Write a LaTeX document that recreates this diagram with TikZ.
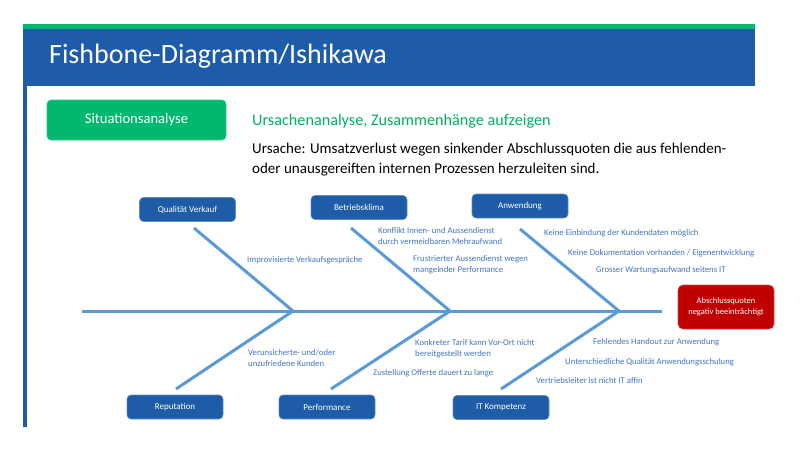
\documentclass[tikz,border=0pt]{standalone}
\usepackage{fontspec}
\setmainfont{Carlito}
\definecolor{headblue}{RGB}{30,92,170}
\definecolor{boxblue}{RGB}{30,92,168}
\definecolor{topgreen}{RGB}{0,185,110}
\definecolor{bonecol}{RGB}{91,155,213}
\definecolor{labcol}{RGB}{68,114,196}
\definecolor{alarmred}{RGB}{192,0,0}
\definecolor{subgreen}{RGB}{0,176,100}
\begin{document}
\begin{tikzpicture}[x=1pt,y=-1pt,
  catbox/.style={draw=boxblue!70!white,line width=0.6pt,fill=boxblue,rounded corners=4pt,
    minimum width=96pt,minimum height=24pt,inner sep=0pt,text=white,font=\fontsize{9}{10.8}\selectfont},
  bone/.style={draw=bonecol,line width=3pt},
  cause/.style={text=labcol,font=\fontsize{8.7}{10.8}\selectfont,anchor=west,align=left,inner sep=0pt}]
\useasboundingbox (0,0) rectangle (800,450);
% header band
\fill[topgreen] (23,24) rectangle (755,28.5);
\fill[headblue] (23,28.5) rectangle (755,86);
\fill[headblue] (23.3,86) rectangle (27,427);
\node[anchor=west,text=white,font=\fontsize{28}{33}\selectfont,inner sep=0pt] (title) at (49,56) {Fishbone-Diagramm/Ishikawa};
% intro
\node[fill=topgreen,draw=topgreen!80!white,line width=0.6pt,rounded corners=4pt,minimum width=179pt,minimum height=40pt,
  inner sep=0pt,text=white,font=\fontsize{14.6}{17}\selectfont] (sit) at (136.5,120) {Situationsanalyse};
\node[anchor=west,inner sep=0pt,text=subgreen,font=\fontsize{16.2}{19}\selectfont] (sub) at (252,121) {Ursachenanalyse, Zusammenhänge aufzeigen};
\node[anchor=north west,inner sep=0pt,align=left,font=\fontsize{15}{20}\selectfont] (cause0) at (252,143)
  {Ursache: Umsatzverlust wegen sinkender Abschlussquoten die aus fehlenden-\\oder unausgereiften internen Prozessen herzuleiten sind.};
% category boxes
\node[catbox] (qv) at (187.5,209.5) {Qualität Verkauf};
\node[catbox] (bk) at (359,207.5) {Betriebsklima};
\node[catbox] (aw) at (520,206) {Anwendung};
\node[catbox] (rp) at (175,407) {Reputation};
\node[catbox] (pf) at (327,407) {Performance};
\node[catbox] (it) at (501,407.5) {IT Kompetenz};
\node[draw=alarmred!70!white,line width=0.6pt,fill=alarmred,rounded corners=5pt,minimum width=96pt,minimum height=44pt,inner sep=0pt,
  text=white,align=center,font=\fontsize{8.5}{11}\selectfont] (eff) at (726,307) {Abschlussquoten\\negativ beeinträchtigt};
% spine and bones
\coordinate (tail) at (82,311);
\coordinate (head) at (662,311);
\coordinate (j1) at (293,311);
\coordinate (j2) at (450,311);
\coordinate (j3) at (619,311);
\coordinate (u1) at (194,228);
\coordinate (u2) at (351,228);
\coordinate (u3) at (520,229);
\coordinate (l1) at (176,389);
\coordinate (l2) at (331,389);
\coordinate (l3) at (501,389);
\draw[bone] (tail) -- (head);
\draw[bone,line join=miter] (u1) -- (j1) -- (l1);
\draw[bone,line join=miter] (u2) -- (j2) -- (l2);
\draw[bone,line join=miter] (u3) -- (j3) -- (l3);
% causes
\node[cause] (c1) at (247,260) {Improvisierte Verkaufsgespräche};
\node[cause] (c2) at (378,236) {Konflikt Innen- und Aussendienst\\durch vermeidbaren Mehraufwand};
\node[cause] (c3) at (413,264.5) {Frustrierter Aussendienst wegen\\mangelnder Performance};
\node[cause] (c4) at (544,233) {Keine Einbindung der Kundendaten möglich};
\node[cause] (c5) at (568,253) {Keine Dokumentation vorhanden / Eigenentwicklung};
\node[cause] (c6) at (596,270) {Grosser Wartungsaufwand seitens IT};
\node[cause] (c7) at (248,358) {Verunsicherte- und/oder\\unzufriedene Kunden};
\node[cause] (c8) at (415,348.5) {Konkreter Tarif kann Vor-Ort nicht\\bereitgestellt werden};
\node[cause] (c9) at (373,373.5) {Zustellung Offerte dauert zu lange};
\node[cause] (c10) at (593,342) {Fehlendes Handout zur Anwendung};
\node[cause] (c11) at (565,362) {Unterschiedliche Qualität Anwendungsschulung};
\node[cause] (c12) at (536,381) {Vertriebsleiter ist nicht IT affin};
\end{tikzpicture}
\end{document}
